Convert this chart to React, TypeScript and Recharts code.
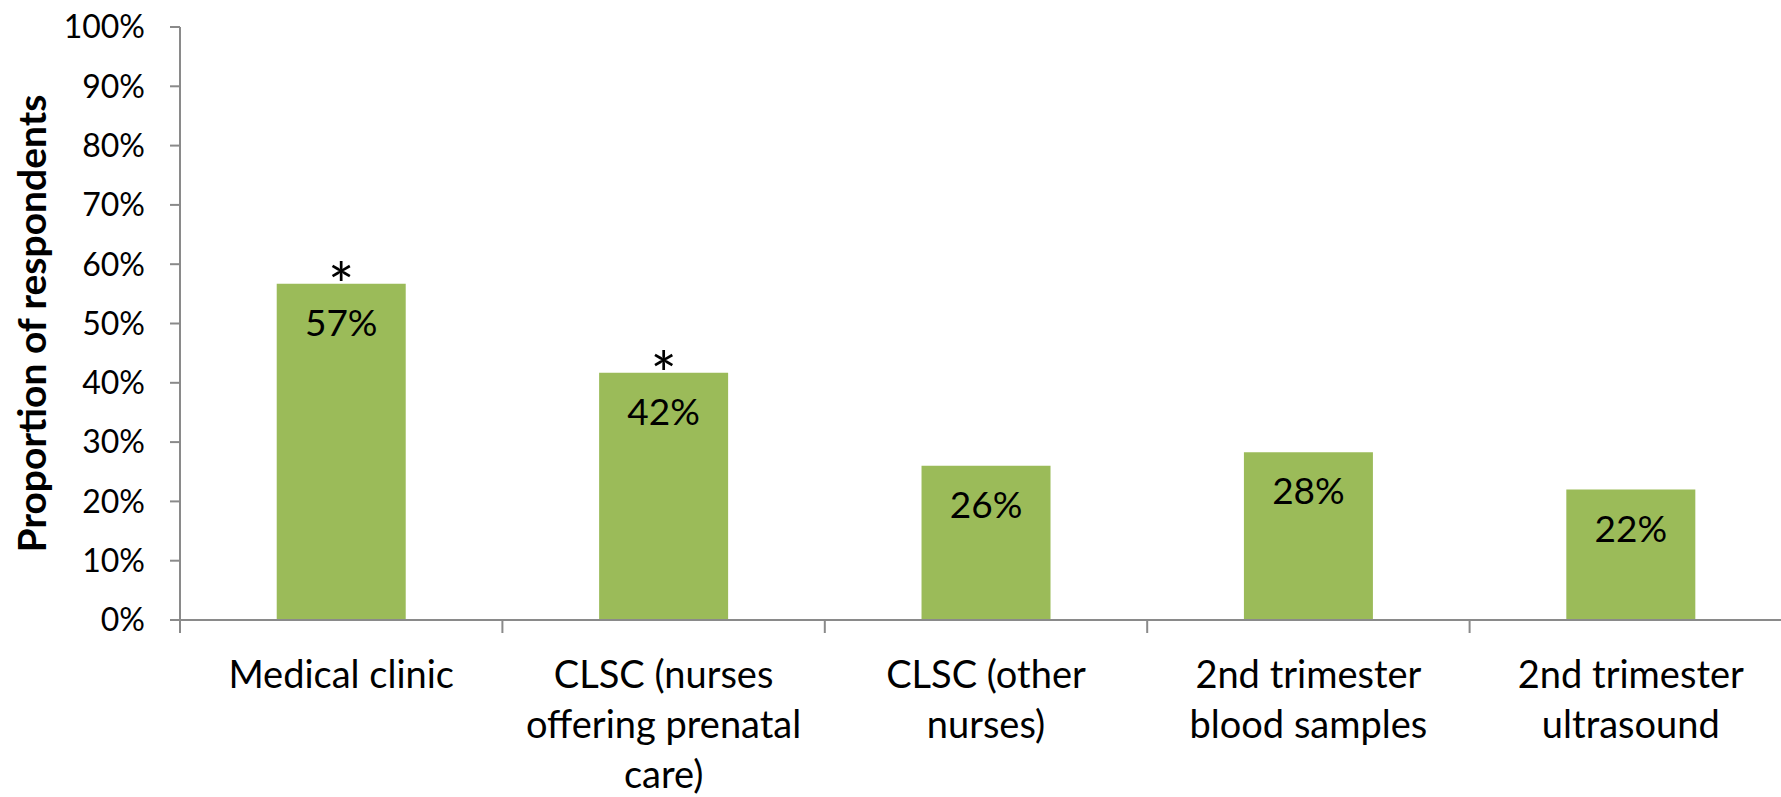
import React from 'react';
import { BarChart, Bar, XAxis, YAxis, LabelList, Label } from 'recharts';

const categories = [
  'Medical clinic',
  'CLSC (nurses offering prenatal care)',
  'CLSC (other nurses)',
  '2nd trimester blood samples',
  '2nd trimester ultrasound',
];
const categoryLines = [
  ['Medical clinic'],
  ['CLSC (nurses', 'offering prenatal', 'care)'],
  ['CLSC (other', 'nurses)'],
  ['2nd trimester', 'blood samples'],
  ['2nd trimester', 'ultrasound'],
];
const proportions = [56.7, 41.7, 26.0, 28.3, 22.0];
const significant = [true, true, false, false, false];
const yTicks = [0, 10, 20, 30, 40, 50, 60, 70, 80, 90, 100];

const data = categories.map((name, i) => ({ name, value: proportions[i], star: significant[i] }));

const FONT = 'Lato, "Open Sans", sans-serif';
const AXIS = '#8a8a8a';
const W = 1800;
const H = 797;
const MARGIN = { top: 27, right: 8, bottom: 0, left: 0 };
const Y_W = 180;
const X_H = 177;
const band = (W - MARGIN.left - MARGIN.right - Y_W) / categories.length;

const CategoryTick = (props: any) => {
  const { x, y, index } = props;
  const lines = categoryLines[index] || [];
  return (
    <g>
      <line x1={x - band / 2} x2={x - band / 2} y1={y} y2={y + 13} stroke={AXIS} strokeWidth={2} />
      {index === categories.length - 1 && (
        <line x1={x + band / 2} x2={x + band / 2} y1={y} y2={y + 13} stroke={AXIS} strokeWidth={2} />
      )}
      <text textAnchor="middle" fontFamily={FONT} fontSize={38} fill="#000">
        {lines.map((l, i) => (
          <tspan key={i} x={x} y={y + 68 + i * 50}>{l}</tspan>
        ))}
      </text>
    </g>
  );
};

const ValueLabel = (props: any) => {
  const { x, y, width, value } = props;
  return (
    <text x={x + width / 2} y={y + 52} textAnchor="middle" fontFamily={FONT} fontSize={37} fill="#000">
      {`${Math.round(value)}%`}
    </text>
  );
};

const StarLabel = (props: any) => {
  const { x, y, width, index } = props;
  if (!significant[index]) return null;
  return (
    <text x={x + width / 2} y={y + 24} textAnchor="middle" fontFamily={FONT} fontSize={62} fill="#000">
      *
    </text>
  );
};

const YTitle = (props: any) => {
  const { viewBox } = props;
  const cx = viewBox.x + 31;
  const cy = viewBox.y + viewBox.height / 2;
  return (
    <text
      x={cx}
      y={cy}
      transform={`rotate(-90, ${cx}, ${cy})`}
      textAnchor="middle"
      dominantBaseline="central"
      fontFamily={FONT}
      fontWeight="bold"
      fontSize={39}
      fill="#000"
    >
      Proportion of respondents
    </text>
  );
};

export default function App() {
  return (
    <div style={{ position: 'absolute', left: 0, top: 0, width: 1781, height: 797, overflow: 'hidden', background: '#fff' }}>
      <BarChart width={W} height={H} data={data} margin={MARGIN} barCategoryGap="30%">
        <XAxis
          dataKey="name"
          height={X_H}
          interval={0}
          tickLine={false}
          tickSize={0}
          tickMargin={0}
          tick={<CategoryTick />}
          axisLine={{ stroke: AXIS, strokeWidth: 2 }}
        />
        <YAxis
          width={Y_W}
          domain={[0, 100]}
          ticks={yTicks}
          interval={0}
          tickFormatter={(v) => `${v}%`}
          tickSize={10}
          tickMargin={25}
          tick={{ fontFamily: FONT, fontSize: 32, fill: '#000' }}
          tickLine={{ stroke: AXIS, strokeWidth: 2 }}
          axisLine={{ stroke: AXIS, strokeWidth: 2 }}
        >
          <Label content={<YTitle />} />
        </YAxis>
        <Bar dataKey="value" fill="#9bbb59" isAnimationActive={false}>
          <LabelList dataKey="value" content={<ValueLabel />} />
          <LabelList dataKey="star" content={<StarLabel />} />
        </Bar>
      </BarChart>
    </div>
  );
}
